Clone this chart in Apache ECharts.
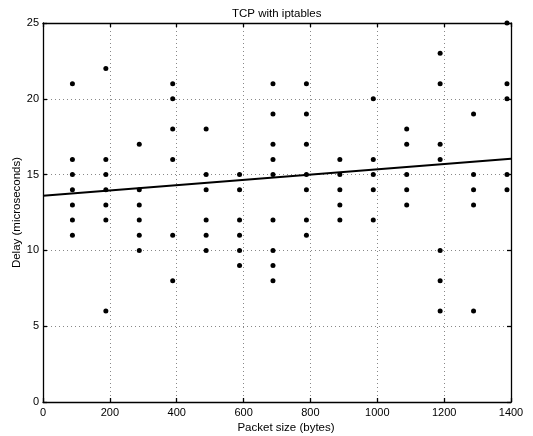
<!DOCTYPE html>
<html>
<head>
<meta charset="utf-8">
<script src="https://cdn.jsdelivr.net/npm/echarts@6/dist/echarts.min.js"></script>
<style>
html,body{margin:0;padding:0;background:#fff;}
#chart{width:533px;height:436px;}
</style>
</head>
<body>
<div id="chart"></div>
<script>
// Packet sizes (x columns) and the measured delays at each size
const packetSizes = [88, 188, 288, 388, 488, 588, 688, 788, 888, 988, 1088, 1188, 1288, 1388];
const delays = [
  [21, 16, 15, 14, 13, 12, 11],
  [22, 16, 15, 14, 13, 12, 6],
  [17, 14, 13, 12, 11, 10],
  [21, 20, 18, 16, 11, 8],
  [18, 15, 14, 12, 11, 10],
  [15, 14, 12, 11, 10, 9],
  [21, 19, 17, 16, 15, 12, 10, 9, 8],
  [21, 19, 17, 15, 14, 12, 11],
  [16, 15, 14, 13, 12],
  [20, 16, 15, 14, 12],
  [18, 17, 15, 14, 13],
  [23, 21, 17, 16, 10, 8, 6],
  [19, 15, 14, 13, 6],
  [25, 21, 20, 15, 14]
];
// Linear fit line endpoints
const fitX = [0, 1400];
const fitY = [13.6, 16.05];
const xTicks = [0, 200, 400, 600, 800, 1000, 1200, 1400];
const yTicks = [0, 5, 10, 15, 20, 25];

const points = [];
packetSizes.forEach((x, i) => delays[i].forEach(v => points.push([x, v])));
const fitLine = fitX.map((x, i) => [x, fitY[i]]);

const FONT = "'Liberation Sans', Arial, Helvetica, sans-serif";
const axisLineStyle = {color: '#000', width: 1.3};
const gridLine = {show: true, lineStyle: {color: '#888', width: 1, type: [1, 3]}};

const chart = echarts.init(document.getElementById('chart'), null, {renderer: 'canvas'});
chart.setOption({
  animation: false,
  backgroundColor: '#fff',
  title: {
    text: 'TCP with iptables',
    left: 227, top: 3,
    textStyle: {fontFamily: FONT, fontSize: 11.5, fontWeight: 'normal', color: '#000'}
  },
  grid: {left: 43, right: 22, top: 23, bottom: 34, containLabel: false, outerBoundsMode: 'none'},
  xAxis: [{
    type: 'value', min: xTicks[0], max: xTicks[xTicks.length - 1], interval: 200,
    position: 'bottom',
    name: 'Packet size (bytes)', nameLocation: 'middle', nameGap: 20, nameMoveOverlap: false,
    nameTextStyle: {fontFamily: FONT, fontSize: 11.5, color: '#000', padding: [0, 0, 0, 18]},
    axisLine: {show: true, onZero: false, lineStyle: axisLineStyle},
    axisTick: {show: true, inside: true, length: 4, lineStyle: axisLineStyle},
    axisLabel: {fontFamily: FONT, fontSize: 11, color: '#000', margin: 5, formatter: v => String(v)},
    splitLine: gridLine
  }, {
    type: 'value', min: xTicks[0], max: xTicks[xTicks.length - 1], interval: 200,
    position: 'top',
    axisLine: {show: true, onZero: false, lineStyle: axisLineStyle},
    axisTick: {show: true, inside: true, length: 4, lineStyle: axisLineStyle},
    axisLabel: {show: false},
    splitLine: {show: false}
  }],
  yAxis: [{
    type: 'value', min: yTicks[0], max: yTicks[yTicks.length - 1], interval: 5,
    position: 'left',
    name: 'Delay (microseconds)', nameLocation: 'middle', nameGap: 20, nameMoveOverlap: false,
    nameTextStyle: {fontFamily: FONT, fontSize: 11.5, color: '#000'},
    axisLine: {show: true, onZero: false, lineStyle: axisLineStyle},
    axisTick: {show: true, inside: true, length: 4, lineStyle: axisLineStyle},
    axisLabel: {fontFamily: FONT, fontSize: 11, color: '#000', margin: 4, formatter: v => String(v)},
    splitLine: gridLine
  }, {
    type: 'value', min: yTicks[0], max: yTicks[yTicks.length - 1], interval: 5,
    position: 'right',
    axisLine: {show: true, onZero: false, lineStyle: axisLineStyle},
    axisTick: {show: true, inside: true, length: 4, lineStyle: axisLineStyle},
    axisLabel: {show: false},
    splitLine: {show: false}
  }],
  series: [{
    type: 'scatter',
    data: points,
    symbol: 'circle',
    symbolSize: 5,
    itemStyle: {color: '#000', opacity: 1},
    xAxisIndex: 0, yAxisIndex: 0,
    z: 3
  }, {
    type: 'line',
    data: fitLine,
    showSymbol: false,
    symbol: 'none',
    lineStyle: {color: '#000', width: 2},
    xAxisIndex: 0, yAxisIndex: 0,
    z: 4
  }]
});
</script>
</body>
</html>
